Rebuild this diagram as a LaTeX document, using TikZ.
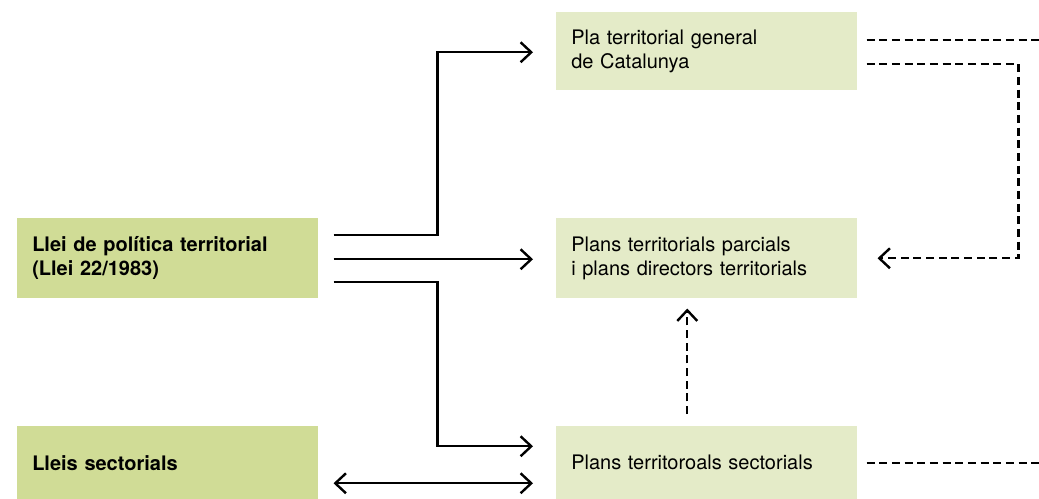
\documentclass[tikz,border=0pt]{standalone}
\usepackage{fontspec}
\setmainfont{TeX Gyre Heros}
\usetikzlibrary{arrows.meta,calc}
\definecolor{lawgreen}{RGB}{208,220,150}
\definecolor{plangreen}{RGB}{228,235,200}
\tikzset{
	box/.style={anchor=north west, minimum height=60pt, text width=203.25pt,
		inner xsep=11.25pt, inner ysep=0pt, align=left,
		font=\fontsize{15}{18}\selectfont},
	lawbox/.style={box, fill=lawgreen, font=\fontsize{15}{18}\selectfont\bfseries},
	planbox/.style={box, fill=plangreen},
	barb/.tip={Straight Barb[length=8pt,width=15pt]},
	link/.style={line width=1.8pt, -barb},
	feed/.style={link, dash pattern=on 6pt off 3.5pt}
}

\begin{document}
\begin{tikzpicture}[x=0.75pt,y=-0.75pt]
	\useasboundingbox (0,0) rectangle (1039,499);
	\node[lawbox] (policy) at (17,218) {Llei de política territorial\\(Llei 22/1983)};
	\node[lawbox, minimum height=54.75pt] (sectlaw) at (17,426) {Lleis sectorials};
	\node[planbox, minimum height=58.5pt] (general) at (556,12) {Pla territorial general\\de Catalunya};
	\node[planbox] (partial) at (556,218) {Plans territorials parcials\\i plans directors territorials};
	\node[planbox, minimum height=54.75pt] (sectplan) at (556,426) {Plans territoroals sectorials};
	% solid links
	\draw[link] ($(policy.east)+(15,-23)$) -- ++(104,0) |- ($(general.west)+(-23,1)$);
	\draw[link] ($(policy.east)+(15,1)$) -- ($(partial.west)+(-23,1)$);
	\draw[link] ($(policy.east)+(15,24)$) -- ++(104,0) |- ($(sectplan.west)+(-23,-16.5)$);
	\draw[link, barb-barb] ($(sectlaw.east)+(15,20.5)$) -- ($(sectplan.west)+(-23,20.5)$);
	% dashed links
	\draw[feed, -] ($(general.east)+(9,-11)$) -- ++(173,0);
	\draw[feed] ($(general.east)+(9,13)$) -| ($(partial.east)+(161,0)$) -- ($(partial.east)+(20,0)$);
	\draw[feed] ($(sectplan.north)+(-19.5,-12)$) -- ($(partial.south)+(-19.5,10)$);
	\draw[feed, -] ($(sectplan.east)+(9,0)$) -- ++(173,0);
\end{tikzpicture}
\end{document}
